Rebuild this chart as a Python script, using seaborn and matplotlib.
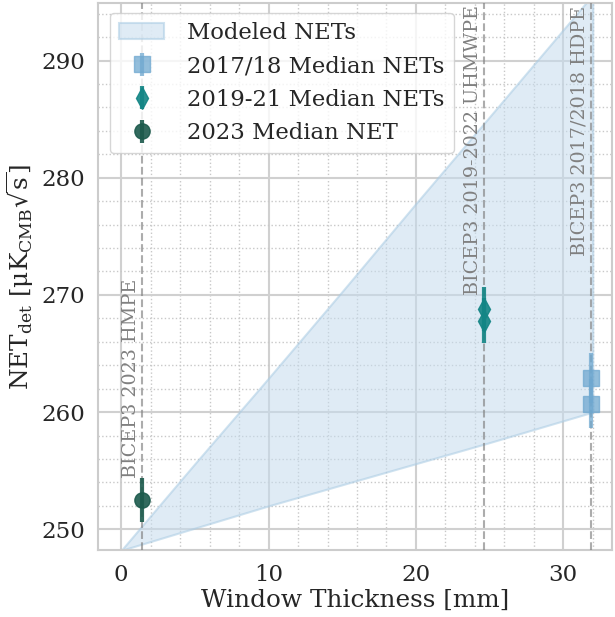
import numpy as np
import matplotlib
matplotlib.use("Agg")
import matplotlib.pyplot as plt
import seaborn as sns
from matplotlib.ticker import MultipleLocator

# ---- data ----
model_x = [0, 5, 10, 15, 20, 25, 32]
model_low = [248.2, 250.1, 252.0, 253.8, 255.6, 257.4, 260.0]
model_high = [248.2, 255.6, 262.9, 270.3, 277.8, 285.2, 295.6]

x_1718 = [31.85, 31.85]
y_1718 = [262.9, 260.7]
e_1718 = [2.1, 2.1]

x_1921 = [24.6, 24.6]
y_1921 = [268.8, 267.8]
e_1921 = [1.9, 1.9]

x_2023 = [1.43]
y_2023 = [252.5]
e_2023 = [1.9]

window_x = [1.43, 24.6, 31.85]
window_labels = ["BICEP3 2023 HMPE", "BICEP3 2019-2022 UHMWPE", "BICEP3 2017/2018 HDPE"]

sns.set_theme(style="whitegrid")
plt.rcParams["font.family"] = ["DejaVu Serif"]
plt.rcParams["mathtext.fontset"] = "dejavuserif"

fig, ax = plt.subplots(figsize=(6.15, 6.17), dpi=100)

ax.fill_between(model_x, model_low, model_high, color="#c6dcee", alpha=0.55,
                edgecolor="#a9cbe3", linewidth=1.5, label="Modeled NETs", zorder=2)

for xv in window_x:
    ax.axvline(xv, color="gray", ls="--", lw=1.5, alpha=0.65, zorder=3)

ax.errorbar(x_1718, y_1718, yerr=e_1718, fmt="s", color="#6fa8d0", alpha=0.75,
            ms=11, elinewidth=3, capsize=0, label="2017/18 Median NETs", zorder=4)
ax.errorbar(x_1921, y_1921, yerr=e_1921, fmt="d", color="#138585", alpha=0.9,
            ms=11, elinewidth=3, capsize=0, label="2019-21 Median NETs", zorder=4)
ax.errorbar(x_2023, y_2023, yerr=e_2023, fmt="o", color="#1c5a4c", alpha=0.9,
            ms=11, elinewidth=3, capsize=0, label="2023 Median NET", zorder=4)

tfs = 13.8
ax.text(window_x[0] - 0.15, 254.4, window_labels[0], rotation=90, ha="right",
        va="bottom", color="gray", fontsize=tfs)
ax.text(window_x[1] - 0.15, 294.7, window_labels[1], rotation=90, ha="right",
        va="top", color="gray", fontsize=tfs)
ax.text(window_x[2] - 0.15, 294.7, window_labels[2], rotation=90, ha="right",
        va="top", color="gray", fontsize=tfs)

ax.set_xlim(-1.55, 33.3)
ax.set_ylim(248.2, 294.9)
ax.xaxis.set_major_locator(MultipleLocator(10))
ax.xaxis.set_minor_locator(MultipleLocator(2))
ax.yaxis.set_major_locator(MultipleLocator(10))
ax.yaxis.set_minor_locator(MultipleLocator(2))
ax.grid(which="major", color="#d0d0d0", lw=1.5, ls="-")
ax.grid(which="minor", color="#c8c8c8", lw=1.0, ls=":")
for s in ax.spines.values():
    s.set_color("#cccccc")
    s.set_linewidth(1.5)

ax.tick_params(labelsize=16.5)
ax.set_xlabel("Window Thickness [mm]", fontsize=17.8, labelpad=2)
ax.set_ylabel(r"NET$_{\rm det}$ [μK$_{\rm CMB}\sqrt{\rm s}$]", fontsize=17.8)

leg = ax.legend(loc="upper left", fontsize=16.4, frameon=True, borderaxespad=0.0,
                bbox_to_anchor=(0.022, 0.982), handletextpad=1.0)
leg.get_frame().set_edgecolor("#cccccc")

fig.subplots_adjust(left=0.16, right=0.995, top=0.995, bottom=0.108)
fig.savefig("out.png", dpi=100)
